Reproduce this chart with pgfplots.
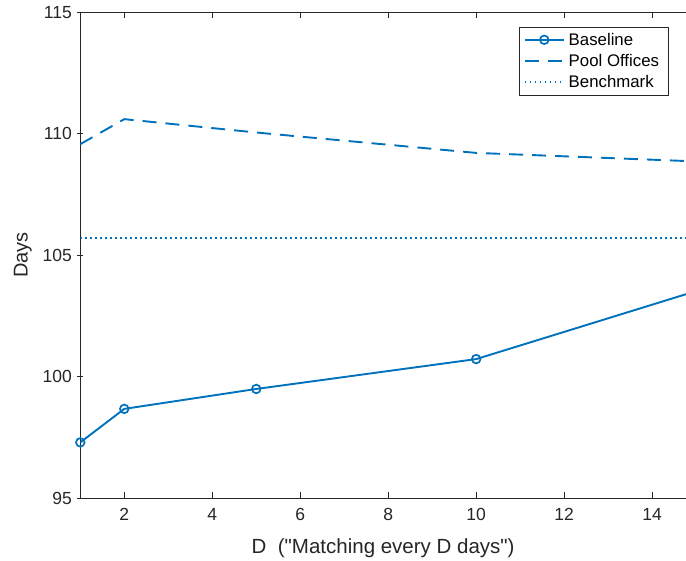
\documentclass[border=0pt]{standalone}
\usepackage{fontspec}
\setmainfont{Liberation Sans}
\usepackage{pgfplots}
\pgfplotsset{compat=1.18}

\definecolor{mblue}{rgb}{0,0.4470,0.7410}
\definecolor{axgray}{rgb}{0.15,0.15,0.15}

\begin{document}
\begin{tikzpicture}
\begin{axis}[
  name=ax,
  scale only axis,
  width=605.7bp, height=485.7bp,
  xmin=1, xmax=14.77,
  ymin=95, ymax=115,
  xtick={2,4,...,14},
  ytick={95,100,...,115},
  axis x line=box,
  axis y line=left,
  y axis line style={-},
  axis line style={draw=axgray, line width=0.8bp},
  tick style={draw=axgray, line width=0.8bp},
  major tick length=6bp,
  tick label style={font=\fontsize{17.5bp}{20bp}\selectfont, text=axgray},
  /pgf/number format/assume math mode=true,
  xticklabel style={yshift=-7bp},
  yticklabel style={xshift=-2bp},
  xlabel={D\ \ (\textquotedbl Matching every D days\textquotedbl)},
  ylabel={Days},
  label style={text=axgray},
  xlabel style={font=\fontsize{20.5bp}{23bp}\selectfont, yshift=-11bp},
  ylabel style={font=\fontsize{20bp}{23bp}\selectfont, yshift=4bp},
  legend style={at={(1,1)}, anchor=north east, xshift=-17.7bp, yshift=-14.4bp,
    draw=axgray, line width=0.6bp, fill=white,
    font=\fontsize{16.8bp}{20bp}\selectfont, text=black,
    inner xsep=5bp, inner ysep=4bp, row sep=3.5bp,
    nodes={inner xsep=4bp}},
  legend cell align=left,
  legend image code/.code={%
    \draw[mark repeat=2, mark phase=2, #1]
      plot coordinates {(0bp,0bp) (19.5bp,0bp) (39bp,0bp)};},
  clip=true,
]
% Baseline
\addplot[mblue, line width=1.9bp, mark=o,
  mark options={solid, line width=1.7bp}, mark size=4.3bp]
  coordinates {(1,97.29) (2,98.67) (5,99.49) (10,100.72) (15,103.52)};
\addlegendentry{Baseline}
% Pool Offices
\addplot[mblue, line width=1.9bp, dash pattern=on 14bp off 9bp]
  coordinates {(1,109.57) (2,110.60) (5,110.05) (10,109.21) (15,108.86)};
\addlegendentry{Pool Offices}
% Benchmark
\addplot[mblue, line width=1.5bp, dash pattern=on 1.5bp off 3.5bp]
  coordinates {(1,105.71) (15,105.71)};
\addlegendentry{Benchmark}
\end{axis}
\pgfresetboundingbox
\useasboundingbox ([xshift=-80.3bp,yshift=-63bp]ax.south west)
  rectangle ([yshift=12.3bp]ax.north east);
\end{tikzpicture}
\end{document}
